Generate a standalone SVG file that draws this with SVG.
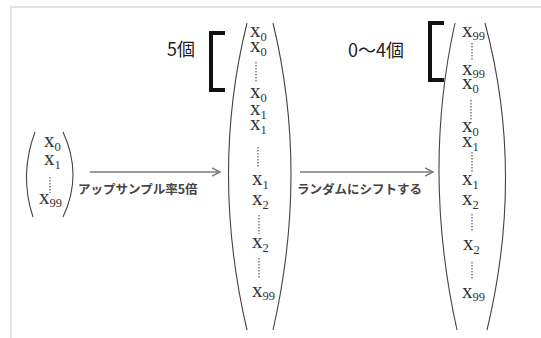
<svg xmlns="http://www.w3.org/2000/svg" width="541" height="338" viewBox="0 0 541 338">
<defs>
<marker id="ah" markerWidth="10" markerHeight="10" refX="8" refY="5" orient="auto" markerUnits="userSpaceOnUse">
<path d="M0,1 L8,5 L0,9" fill="none" stroke="#7a7a7a" stroke-width="1.4"/>
</marker>
</defs>
<style>
.frame{stroke:#e3e3e3;stroke-width:2;fill:none}
.par{fill:none;stroke:#444;stroke-width:1.1}
.x{font-family:"Liberation Serif","Times New Roman",serif;font-size:21px;fill:#333}
.s{font-size:12.5px}
.dots{stroke:#666;stroke-width:1.3;stroke-dasharray:1.5 1.5}
.jp{font-family:"Noto Sans CJK JP","Noto Sans",sans-serif;fill:#333}
.lbl{font-size:12.5px;font-weight:bold;fill:#444}
.cnt{font-size:18px;fill:#222}
.br{fill:none;stroke:#111;stroke-width:4}
.arr{stroke:#7a7a7a;stroke-width:1.5;fill:none}
</style>
<rect width="541" height="338" fill="#fff"/>
<path class="frame" d="M11,338 V7 H541"/>

<g id="input">
<path class="par" d="M35,132 Q19,175 33,217"/>
<path class="par" d="M63,132 Q83,175 63,217"/>
<text class="x" x="44" y="147">x<tspan class="s" dy="4">0</tspan></text>
<text class="x" x="44" y="165">x<tspan class="s" dy="4">1</tspan></text>
<line class="dots" x1="50" y1="177" x2="50" y2="193"/>
<text class="x" x="39" y="204">x<tspan class="s" dy="3">99</tspan></text>
</g>

<g id="upsampled">
<path class="par" d="M247,23 Q210,172 247,330"/>
<path class="par" d="M273,23 Q309,172 273,330"/>
<text class="x" x="250" y="37">x<tspan class="s" dy="4">0</tspan></text>
<text class="x" x="250" y="52">x<tspan class="s" dy="4">0</tspan></text>
<line class="dots" x1="256" y1="62" x2="256" y2="83"/>
<text class="x" x="250" y="98">x<tspan class="s" dy="4">0</tspan></text>
<text class="x" x="250" y="115">x<tspan class="s" dy="4">1</tspan></text>
<text class="x" x="250" y="130">x<tspan class="s" dy="4">1</tspan></text>
<line class="dots" x1="258" y1="147" x2="258" y2="167"/>
<text class="x" x="252" y="185">x<tspan class="s" dy="4">1</tspan></text>
<text class="x" x="252" y="205">x<tspan class="s" dy="4">2</tspan></text>
<line class="dots" x1="259" y1="215" x2="259" y2="234"/>
<text class="x" x="252" y="248">x<tspan class="s" dy="4">2</tspan></text>
<line class="dots" x1="259" y1="258" x2="259" y2="278"/>
<text class="x" x="252" y="297">x<tspan class="s" dy="3">99</tspan></text>
</g>

<g id="shifted">
<path class="par" d="M455,23 Q422,172 457,330"/>
<path class="par" d="M485,23 Q525,172 487,330"/>
<text class="x" x="462" y="37">x<tspan class="s" dy="3">99</tspan></text>
<line class="dots" x1="472" y1="43" x2="472" y2="61"/>
<text class="x" x="462" y="75">x<tspan class="s" dy="3">99</tspan></text>
<text class="x" x="462" y="89">x<tspan class="s" dy="4">0</tspan></text>
<line class="dots" x1="471" y1="100" x2="471" y2="120"/>
<text class="x" x="462" y="132">x<tspan class="s" dy="4">0</tspan></text>
<text class="x" x="462" y="147">x<tspan class="s" dy="4">1</tspan></text>
<line class="dots" x1="472" y1="152" x2="472" y2="173"/>
<text class="x" x="462" y="185">x<tspan class="s" dy="4">1</tspan></text>
<text class="x" x="462" y="205">x<tspan class="s" dy="4">2</tspan></text>
<line class="dots" x1="472" y1="214" x2="472" y2="231"/>
<text class="x" x="463" y="250">x<tspan class="s" dy="4">2</tspan></text>
<line class="dots" x1="472" y1="262" x2="472" y2="280"/>
<text class="x" x="462" y="298">x<tspan class="s" dy="3">99</tspan></text>
</g>

<g id="count5">
<text class="jp cnt" x="167" y="56">5個</text>
<path class="br" d="M225,33 H211 V90 H225"/>
</g>

<g id="count04">
<text class="jp cnt" x="348" y="57">0〜4個</text>
<path class="br" d="M444,23 H430 V80 H444"/>
</g>

<g id="connectors">
<line class="arr" x1="90" y1="172" x2="220" y2="172" marker-end="url(#ah)"/>
<text class="jp lbl" x="78" y="194">アップサンプル率5倍</text>
<line class="arr" x1="300" y1="172" x2="433" y2="172" marker-end="url(#ah)"/>
<text class="jp lbl" x="297" y="194">ランダムにシフトする</text>
</g>
</svg>
